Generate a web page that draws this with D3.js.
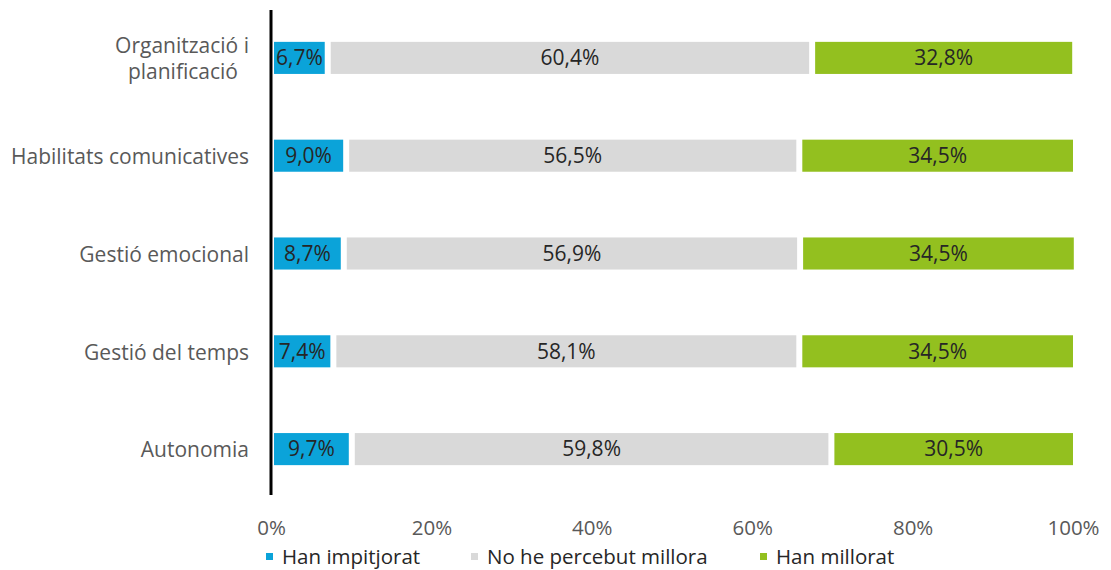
<!DOCTYPE html>
<html><head><meta charset="utf-8">
<script src="https://cdn.jsdelivr.net/npm/d3@7"></script>
<style>body{margin:0;background:#fff;}svg{display:block;font-family:"Open Sans",sans-serif;}</style>
</head><body><svg id="c" width="1111" height="570"></svg>
<script>
const categories = [["Organització i","planificació"],["Habilitats comunicatives"],["Gestió emocional"],["Gestió del temps"],["Autonomia"]];
const seriesNames = ["Han impitjorat","No he percebut millora","Han millorat"];
const impitjorat = [6.7, 9.0, 8.7, 7.4, 9.7];
const noMillora = [60.4, 56.5, 56.9, 58.1, 59.8];
const millorat = [32.8, 34.5, 34.5, 34.5, 30.5];
const tickValues = [0, 20, 40, 60, 80, 100];
const colors = ["#0BA3D9", "#D9D9D9", "#93C01F"];
const FONT = "'Open Sans',sans-serif";

const svg = d3.select("#c");
const x = d3.scaleLinear().domain([0, 100]).range([271, 1073]);
const y = d3.scaleBand().domain(d3.range(categories.length)).range([9, 498]).paddingInner(0.672).paddingOuter(0.336);
const series = [impitjorat, noMillora, millorat];
const fmt = v => v.toFixed(1).replace(".", ",") + "%";

categories.forEach((cat, i) => {
  let start = 0;
  series.forEach((s, k) => {
    const v = s[i];
    const x0 = x(start) + (k === 0 ? 3 : 6);
    const x1 = x(start + v);
    svg.append("rect").attr("x", x0).attr("y", y(i)).attr("width", x1 - x0).attr("height", y.bandwidth()).attr("fill", colors[k]);
    svg.append("text").attr("x", (x0 + x1) / 2).attr("y", y(i) + y.bandwidth() / 2).attr("dy", "0.35em")
      .attr("text-anchor", "middle").attr("font-size", 21).attr("fill", "#262626").text(fmt(v));
    start += v;
  });
  const lines = cat;
  const cy = y(i) + y.bandwidth() / 2;
  const t = svg.append("text").attr("text-anchor", "end").attr("font-size", 21).attr("fill", "#595959");
  lines.forEach((l, j) => {
    t.append("tspan").attr("x", lines.length > 1 && j === 1 ? 238 : 249)
      .attr("y", cy + 1 + (j - (lines.length - 1) / 2) * 26).attr("dy", "0.35em").text(l);
  });
});

// vertical axis line
svg.append("line").attr("x1", x(0)).attr("x2", x(0)).attr("y1", 10).attr("y2", 495).attr("stroke", "#000").attr("stroke-width", 3);

// x axis tick labels
const xAxis = d3.axisBottom(x).tickValues(tickValues).tickFormat(d => d + "%").tickSize(0).tickPadding(0);
const gx = svg.append("g").attr("transform", "translate(0,520)").call(xAxis);
gx.select(".domain").remove();
gx.selectAll("text").attr("font-size", 20.5).attr("fill", "#595959").attr("font-family", FONT).attr("dy", "0.71em");

// legend
const legendX = [266, 471, 760];
seriesNames.forEach((n, k) => {
  svg.append("rect").attr("x", legendX[k]).attr("y", 553).attr("width", 7).attr("height", 7).attr("fill", colors[k]);
  svg.append("text").attr("x", legendX[k] + 16).attr("y", 557).attr("dy", "0.35em").attr("font-size", 20.5).attr("fill", "#262626").text(n);
});
</script></body></html>
